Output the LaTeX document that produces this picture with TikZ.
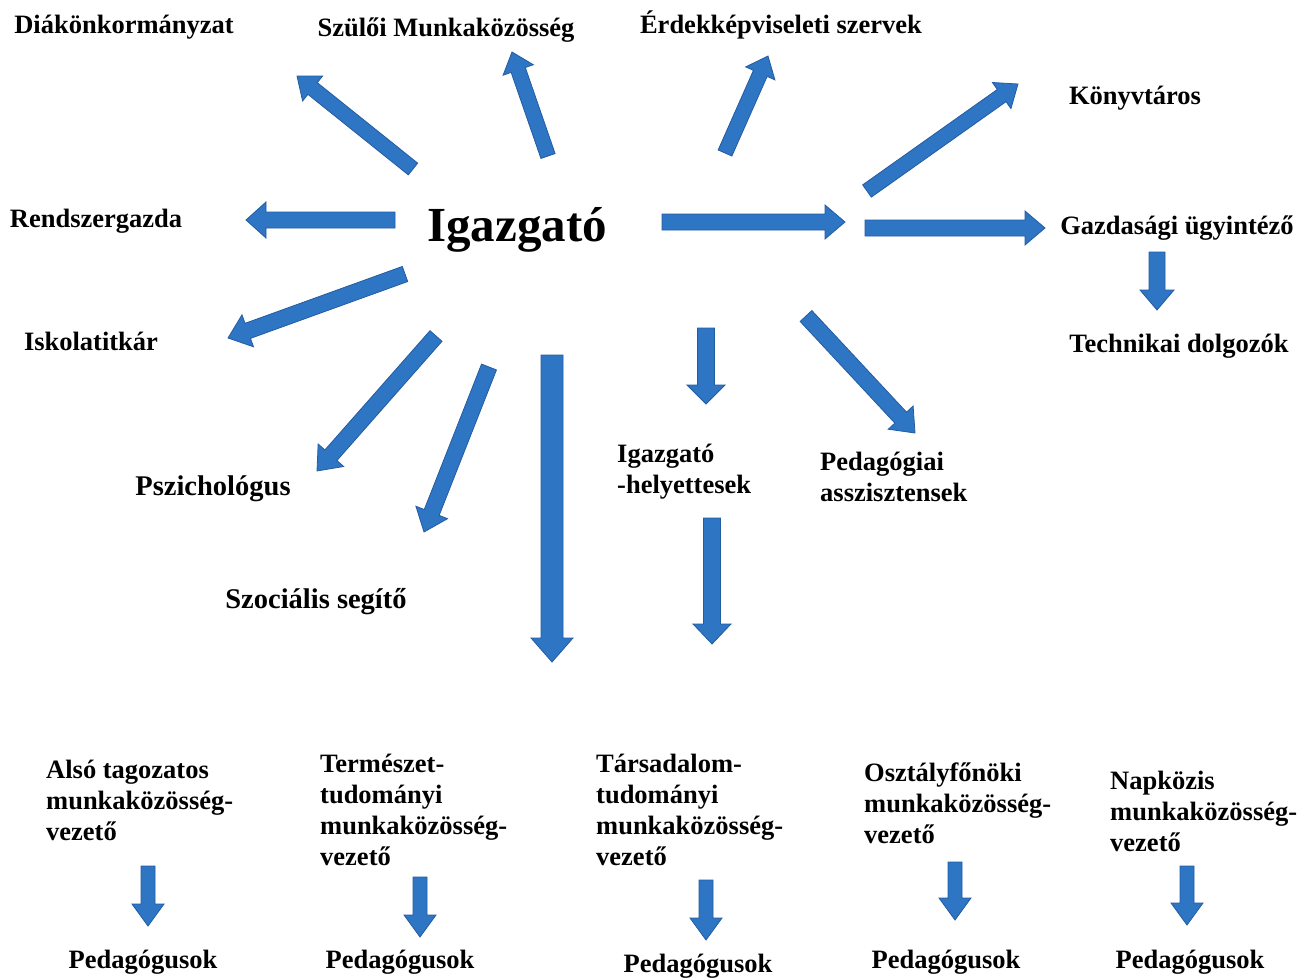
\documentclass[tikz,border=0pt]{standalone}
\usepackage{fontspec}
\setmainfont{Liberation Serif}
\usetikzlibrary{calc}
\definecolor{arrowblue}{RGB}{46,117,196}
\definecolor{arrowedge}{RGB}{36,92,162}
\tikzset{
  lbl/.style={font=\bfseries\fontsize{26.5}{31}\selectfont, inner sep=0pt, align=left},
  lblc/.style={font=\bfseries\fontsize{28.5}{33}\selectfont, inner sep=0pt},
  head/.style={font=\bfseries\fontsize{49}{55}\selectfont, inner sep=0pt},
  barrow/.style={fill=arrowblue, draw=arrowedge, line width=0.8pt, line join=miter}
}
\newcommand\barr[5]{%
  \path let \p1=($(#2)-(#1)$), \n1={atan2(\y1,\x1)}, \n2={veclen(\x1,\y1)} in
    \pgfextra{\xdef\baang{\n1}\xdef\balen{\n2}};
  \filldraw[barrow, shift={(#1)}, rotate=\baang, x=1pt, y=1pt]
    (0,-#3) -- ({\balen-#5},-#3) -- ({\balen-#5},-#4) -- (\balen,0)
    -- ({\balen-#5},#4) -- ({\balen-#5},#3) -- (0,#3) -- cycle;
}
\begin{document}
\begin{tikzpicture}[x=1pt,y=-1pt]
\fill[white] (0,0) rectangle (1299,979);
\useasboundingbox (0,0) rectangle (1299,979);

% labels
\node[head] (ig) at (517,230) {Igazgató};
\node[lbl] (dk) at (124,27) {Diákönkormányzat};
\node[lbl] (szm) at (446,30) {Szülői Munkaközösség};
\node[lbl] (erd) at (781,25) {Érdekképviseleti szervek};
\node[lbl] (konyv) at (1135,98) {Könyvtáros};
\node[lbl] (rend) at (96,221) {Rendszergazda};
\node[lbl] (gazd) at (1177,228) {Gazdasági ügyintéző};
\node[lbl] (tech) at (1179,346) {Technikai dolgozók};
\node[lbl] (iskt) at (91,341) {Iskolatitkár};
\node[lblc] (pszi) at (213,489) {Pszichológus};
\node[lblc] (szoc) at (316,602) {Szociális segítő};
\node[lbl, anchor=west] (igh) at (617,472) {Igazgató\\-helyettesek};
\node[lbl, anchor=west] (peda) at (820,477) {Pedagógiai\\asszisztensek};

\node[lbl, anchor=west] (also) at (46,800) {Alsó tagozatos\\munkaközösség-\\vezető};
\node[lbl, anchor=west] (term) at (320,810) {Természet-\\tudományi\\munkaközösség-\\vezető};
\node[lbl, anchor=west] (tars) at (596,810) {Társadalom-\\tudományi\\munkaközösség-\\vezető};
\node[lbl, anchor=west] (oszt) at (864,803) {Osztályfőnöki\\munkaközösség-\\vezető};
\node[lbl, anchor=west] (napk) at (1110,811) {Napközis\\munkaközösség-\\vezető};

\node[lbl] (p1) at (143,962) {Pedagógusok};
\node[lbl] (p2) at (400,962) {Pedagógusok};
\node[lbl] (p3) at (698,966) {Pedagógusok};
\node[lbl] (p4) at (946,962) {Pedagógusok};
\node[lbl] (p5) at (1190,962) {Pedagógusok};

% arrow end points
\coordinate (a1s) at (413,169); \coordinate (a1e) at (297,76);
\coordinate (a2s) at (548,156); \coordinate (a2e) at (512,52);
\coordinate (a3s) at (725,153); \coordinate (a3e) at (768,56);
\coordinate (a4s) at (867,191); \coordinate (a4e) at (1018,84);
\coordinate (a5s) at (395,220); \coordinate (a5e) at (246,220);
\coordinate (a6s) at (662,222); \coordinate (a6e) at (845,222);
\coordinate (a7s) at (865,228); \coordinate (a7e) at (1045,228);
\coordinate (a8s) at (1157,252); \coordinate (a8e) at (1157,310);
\coordinate (a9s) at (405,274); \coordinate (a9e) at (228,338);
\coordinate (a10s) at (436,336); \coordinate (a10e) at (317,471);
\coordinate (a11s) at (489,367); \coordinate (a11e) at (424,532);
\coordinate (a12s) at (552,355); \coordinate (a12e) at (552,662);
\coordinate (a13s) at (706,328); \coordinate (a13e) at (706,404);
\coordinate (a14s) at (806,316); \coordinate (a14e) at (915,433);
\coordinate (a15s) at (712,518); \coordinate (a15e) at (712,644);
\coordinate (b1s) at (148,866); \coordinate (b1e) at (148,926);
\coordinate (b2s) at (420,877); \coordinate (b2e) at (420,937);
\coordinate (b3s) at (706,880); \coordinate (b3e) at (706,940);
\coordinate (b4s) at (955,862); \coordinate (b4e) at (955,920);
\coordinate (b5s) at (1187,866); \coordinate (b5e) at (1187,925);

% arrows
\barr{a1s}{a1e}{7.5}{16}{20}
\barr{a2s}{a2e}{7.5}{16}{19}
\barr{a3s}{a3e}{7.5}{16}{19}
\barr{a4s}{a4e}{7.5}{16}{20}
\barr{a5s}{a5e}{8}{18}{20}
\barr{a6s}{a6e}{8}{17}{20}
\barr{a7s}{a7e}{8}{17}{20}
\barr{a8s}{a8e}{8}{17}{20}
\barr{a9s}{a9e}{8}{17}{21}
\barr{a10s}{a10e}{8}{17}{21}
\barr{a11s}{a11e}{8}{17}{21}
\barr{a12s}{a12e}{11}{21}{24}
\barr{a13s}{a13e}{8.5}{19}{19}
\barr{a14s}{a14e}{8}{17}{21}
\barr{a15s}{a15e}{8.5}{19}{20}
\barr{b1s}{b1e}{7}{16}{22}
\barr{b2s}{b2e}{7}{16}{22}
\barr{b3s}{b3e}{7}{16}{22}
\barr{b4s}{b4e}{7}{16}{22}
\barr{b5s}{b5e}{7}{16}{22}
\end{tikzpicture}
\end{document}
